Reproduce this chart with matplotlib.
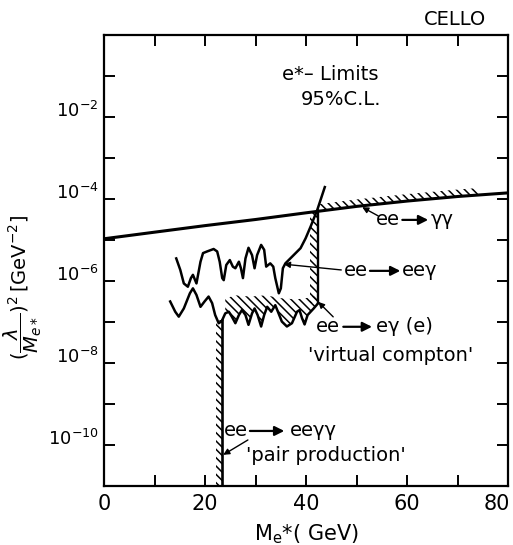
import matplotlib

matplotlib.use("Agg")
import matplotlib.pyplot as plt
import numpy as np
from matplotlib.ticker import NullLocator
from matplotlib.transforms import ScaledTranslation

# ee -> gamma gamma limit
gg_mass = [0, 10, 20, 30, 40, 50, 60, 70, 80]
gg_limit = [1.07e-5, 1.55e-5, 2.24e-5, 3.16e-5, 4.6e-5, 6.6e-5, 8.9e-5, 1.15e-4, 1.41e-4]

# ee -> ee gamma limit, log10 values
eeg_mass = [14.3, 15.1, 15.8, 16.6, 17.2, 17.6, 18.3, 19.1, 19.6, 20.4, 21.7, 22.4,
            22.9, 23.4, 23.7, 24.2, 24.9, 25.5, 26.0, 26.7, 27.1, 27.5, 28.0, 28.6,
            29.3, 29.8, 30.3, 31.1, 31.7, 32.1, 32.9, 33.5, 33.9, 34.6, 35.0, 35.4,
            35.9, 37.2, 38.9, 39.9, 40.9, 42.2, 43.7]
eeg_log = [-5.45, -5.73, -6.06, -6.14, -5.93, -5.85, -6.06, -5.53, -5.32, -5.28, -5.22, -5.28,
           -5.53, -5.93, -5.98, -5.61, -5.49, -5.65, -5.69, -5.53, -5.69, -5.93, -5.45, -5.19,
           -5.37, -5.69, -5.37, -5.12, -5.24, -5.65, -5.57, -5.65, -5.93, -6.30, -6.18, -5.69,
           -5.57, -5.41, -5.20, -4.96, -4.67, -4.27, -3.71]

# ee -> e gamma (e) 'virtual compton' limit, log10 values
eg_mass = [13.1, 14.1, 14.8, 15.8, 17.0, 17.6, 18.3, 19.1, 19.9, 20.7, 21.4, 22.0,
           22.7, 23.3, 24.0, 24.7, 25.3, 26.0, 26.7, 27.3, 28.0, 28.6, 29.3, 29.8,
           30.4, 31.1, 31.7, 32.3, 33.1, 33.9, 35.2, 36.2, 37.2, 38.2, 38.7, 39.2,
           39.7, 40.3, 41.5, 42.4]
eg_log = [-6.50, -6.75, -6.87, -6.67, -6.30, -6.18, -6.34, -6.63, -6.50, -6.38, -6.54, -6.83,
          -7.03, -6.98, -6.79, -6.75, -6.87, -7.03, -6.83, -6.71, -6.83, -7.07, -6.79, -6.67,
          -6.83, -7.11, -6.83, -6.63, -6.75, -6.59, -6.99, -7.11, -7.03, -6.75, -6.71, -6.91,
          -7.06, -6.83, -6.67, -6.54]

# upper edge of the hand-drawn hatching above the compton curve
hatch_mass = [23.4, 26.0, 29.0, 32.0, 35.0, 38.0, 41.0, 42.4]
hatch_log = [-6.45, -6.35, -6.38, -6.35, -6.42, -6.45, -6.40, -6.30]

PAIR_MASS = 23.4      # ee -> ee gamma gamma, 'pair production'
COMPTON_MAX = 42.4    # end of the virtual compton curve
GG_HATCH_END = 74.0

HATCH = "\\\\\\\\"
plt.rcParams.update({
    "font.family": "DejaVu Sans",
    "hatch.linewidth": 1.1,
    "hatch.color": "black",
})

fig = plt.figure(figsize=(5.13, 5.45), dpi=100)
ax = fig.add_axes([0.2027, 0.1083, 0.788, 0.8275])
ax.set_yscale("log")
ax.set_xlim(0, 80)
ax.set_ylim(1e-11, 1)

gg_m = np.array(gg_mass, float)
gg_l = np.log10(gg_limit)
eg_m = np.array(eg_mass)
eg_y = 10.0 ** np.array(eg_log)

# --- curves -------------------------------------------------------------
ax.plot(gg_m, gg_limit, color="black", lw=2.2)
ax.plot(eeg_mass, 10.0 ** np.array(eeg_log), color="black", lw=1.8)
ax.plot(eg_m, eg_y, color="black", lw=1.8)

pair_top = 10 ** np.interp(PAIR_MASS, eg_mass, eg_log)
ax.plot([PAIR_MASS, PAIR_MASS], [1e-11, pair_top], color="black", lw=1.9)
gg_at_max = 10 ** np.interp(COMPTON_MAX, gg_m, gg_l)
ax.plot([COMPTON_MAX, COMPTON_MAX], [eg_y[-1], gg_at_max], color="black", lw=1.7)

# --- hatching on the excluded side ----------------------------------------
hx = np.linspace(COMPTON_MAX, GG_HATCH_END, 40)
hl = np.interp(hx, gg_m, gg_l)
ax.fill_between(hx, 10 ** hl, 10 ** (hl + 0.17), facecolor="none",
                edgecolor="black", hatch=HATCH, linewidth=0)
ax.fill_betweenx([1e-11, pair_top], PAIR_MASS - 1.3, PAIR_MASS, facecolor="none",
                 edgecolor="black", hatch=HATCH, linewidth=0)
ax.fill_betweenx([eg_y[-1], gg_at_max], COMPTON_MAX - 1.6, COMPTON_MAX,
                 facecolor="none", edgecolor="black", hatch=HATCH, linewidth=0)
sel = eg_m >= PAIR_MASS
ax.fill_between(eg_m[sel], eg_y[sel],
                10 ** np.interp(eg_m[sel], hatch_mass, hatch_log),
                facecolor="none", edgecolor="black", hatch=HATCH, linewidth=0)

# --- axes cosmetics -------------------------------------------------------
ax.set_xticks(np.arange(0, 81, 10))
ax.set_xticklabels(["0", "", "20", "", "40", "", "60", "", "80"])
ax.set_yticks([10.0 ** e for e in range(-10, 0)])
ax.set_yticklabels([f"$10^{{{e}}}$" if e % 2 == 0 else "" for e in range(-10, 0)])
ax.yaxis.set_minor_locator(NullLocator())
ax.tick_params(which="both", direction="in", top=True, right=True,
               length=8, width=1.4, labelsize=15)
ax.tick_params(axis="y", labelsize=13, pad=4)
ax.tick_params(axis="x", pad=6)
for lab in ax.get_yticklabels():
    lab.set_transform(lab.get_transform()
                      + ScaledTranslation(0, 6 / 72, fig.dpi_scale_trans))
last = ax.xaxis.get_major_ticks()[-1].label1
last.set_transform(last.get_transform()
                   + ScaledTranslation(-8 / 72, 0, fig.dpi_scale_trans))
for sp in ax.spines.values():
    sp.set_linewidth(1.6)

ax.set_xlabel(r"M$_{\mathrm{e}}$*( GeV)", fontsize=15, labelpad=6)
fig.text(0.045, 0.473, r"$(\dfrac{\lambda}{M_{e*}})^2\,[\mathrm{GeV}^{-2}]$",
         fontsize=14, rotation=90, ha="center", va="center")

# --- labels ---------------------------------------------------------------
TXT = dict(fontsize=14, transform=ax.transAxes, va="center")
fig.text(0.887, 0.965, "CELLO", fontsize=14, ha="center", va="center")
ax.text(0.56, 0.913, "e*– Limits", ha="center", **TXT)
ax.text(0.587, 0.856, "95%C.L.", ha="center", **TXT)


def reaction(left, right, x_left_end, x_arrow, x_right_start, y):
    ax.text(x_left_end, y, left, ha="right", **TXT)
    ax.annotate("", xy=(x_arrow[1], y), xytext=(x_arrow[0], y),
                xycoords="axes fraction", textcoords="axes fraction",
                arrowprops=dict(arrowstyle="-|>", color="black", lw=1.6,
                                mutation_scale=14, shrinkA=0, shrinkB=0))
    ax.text(x_right_start, y, right, ha="left", **TXT)


reaction("ee", "γγ", 0.733, (0.738, 0.802), 0.807, 0.590)
reaction("ee", "eeγ", 0.653, (0.658, 0.733), 0.738, 0.477)
reaction("ee", "eγ (e)", 0.584, (0.592, 0.663), 0.673, 0.353)
reaction("ee", "eeγγ", 0.356, (0.361, 0.446), 0.460, 0.122)
ax.text(0.708, 0.290, "'virtual compton'", ha="center", **TXT)
ax.text(0.55, 0.067, "'pair production'", ha="center", **TXT)

POINT = dict(xycoords="data", textcoords="axes fraction",
             arrowprops=dict(arrowstyle="-|>", color="black", lw=1.0,
                             mutation_scale=9, shrinkA=0, shrinkB=0))
ax.annotate("", xy=(51.1, 10 ** -4.20), xytext=(0.678, 0.599), **POINT)
ax.annotate("", xy=(35.6, 10 ** -5.59), xytext=(0.587, 0.479), **POINT)
ax.annotate("", xy=(42.4, 10 ** -6.51), xytext=(0.567, 0.375), **POINT)
ax.annotate("", xy=(23.6, 10 ** -10.24), xytext=(0.356, 0.102), **POINT)

fig.savefig("out.png", dpi=100)
